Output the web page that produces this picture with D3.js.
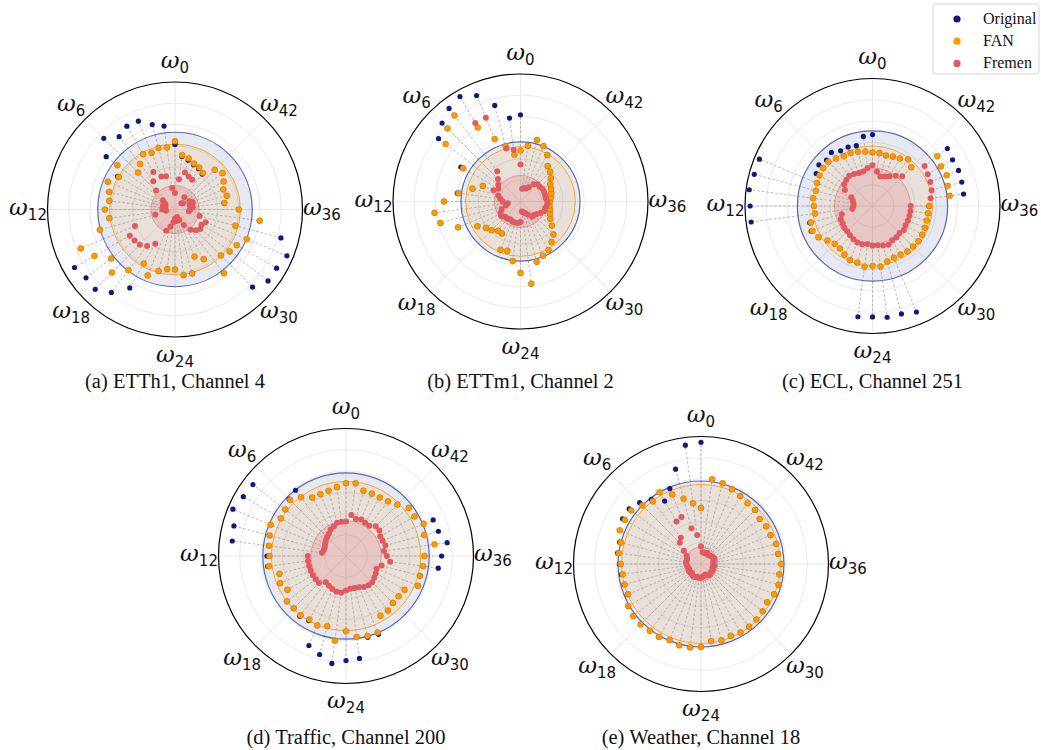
<!DOCTYPE html>
<html>
<head>
<meta charset="utf-8">
<script src="https://cdn.jsdelivr.net/npm/d3@7"></script>
<style>
body { margin: 0; background: #fff; }
</style>
</head>
<body>
<script>

// 48 frequency components per channel, radius as fraction of the outer circle
var N = 48;
var TICKS = [0, 6, 12, 18, 24, 30, 36, 42];
var TITLES = ["(a) ETTh1, Channel 4", "(b) ETTm1, Channel 2", "(c) ECL, Channel 251",
              "(d) Traffic, Channel 200", "(e) Weather, Channel 18"];
var SERIES = ["Original", "FAN", "Fremen"];

var origA = [0.51,0.66,0.69,0.75,0.755,0.72,0.79,0.68,0.52,0.57,0.535,0.52,0.55,0.52,0.61,0.80,
             0.91,0.88,0.885,0.82,0.71,0.56,0.50,0.47,0.47,0.52,0.52,0.40,0.45,0.63,0.86,0.92,
             0.92,0.95,0.86,0.67,0.50,0.39,0.42,0.41,0.44,0.47,0.44,0.35,0.37,0.38,0.40,0.42];
var fanA  = [0.535,0.49,0.50,0.48,0.50,0.45,0.41,0.57,0.51,0.57,0.535,0.52,0.55,0.52,0.61,0.80,
             0.73,0.63,0.70,0.60,0.49,0.56,0.50,0.47,0.47,0.52,0.52,0.40,0.45,0.63,0.51,0.54,
             0.56,0.61,0.49,0.67,0.50,0.39,0.42,0.41,0.44,0.47,0.44,0.36,0.38,0.39,0.415,0.43];
var freA  = [0.13,0.17,0.27,0.28,0.34,0.28,0.21,0.12,0.09,0.08,0.10,0.08,0.10,0.07,0.16,0.34,
             0.41,0.40,0.39,0.36,0.31,0.18,0.14,0.10,0.07,0.09,0.06,0.09,0.14,0.20,0.23,0.25,
             0.24,0.26,0.20,0.11,0.12,0.14,0.12,0.15,0.13,0.08,0.07,0.12,0.27,0.28,0.30,0.24];

var origB = [0.68,0.66,0.78,0.90,0.95,0.92,0.87,0.81,0.54,0.32,0.39,0.50,0.60,0.68,0.65,0.53,
             0.39,0.34,0.32,0.29,0.29,0.41,0.40,0.47,0.56,0.65,0.49,0.46,0.44,0.40,0.365,0.31,
             0.27,0.25,0.24,0.23,0.23,0.24,0.25,0.26,0.27,0.30,0.33,0.35,0.42,0.47,0.50,0.44];
var fanB  = [0.40,0.37,0.45,0.53,0.67,0.85,0.81,0.74,0.52,0.32,0.39,0.49,0.60,0.68,0.65,0.53,
             0.39,0.34,0.32,0.29,0.29,0.41,0.40,0.47,0.56,0.65,0.49,0.46,0.44,0.40,0.365,0.31,
             0.27,0.25,0.24,0.23,0.23,0.24,0.25,0.26,0.27,0.30,0.33,0.35,0.42,0.47,0.50,0.44];
var freB  = [0.29,0.41,0.43,0.71,0.71,0.30,0.25,0.22,0.20,0.23,0.18,0.16,0.14,0.10,0.12,0.16,
             0.18,0.19,0.17,0.17,0.16,0.17,0.17,0.17,0.16,0.08,0.09,0.10,0.12,0.15,0.15,0.16,
             0.18,0.20,0.20,0.21,0.21,0.20,0.20,0.20,0.20,0.19,0.19,0.17,0.13,0.11,0.11,0.10];

var origC = [0.56,0.55,0.49,0.50,0.50,0.53,0.51,0.53,0.51,0.96,0.96,0.975,0.96,0.96,0.51,0.52,
             0.49,0.445,0.42,0.42,0.44,0.46,0.46,0.876,0.87,0.88,0.876,0.90,0.44,0.45,0.45,0.455,
             0.45,0.445,0.44,0.44,0.445,0.72,0.725,0.73,0.725,0.74,0.43,0.46,0.43,0.42,0.41,0.42];
var fanC  = [0.42,0.43,0.44,0.45,0.45,0.47,0.49,0.49,0.48,0.47,0.46,0.47,0.46,0.455,0.50,0.51,
             0.49,0.445,0.42,0.42,0.44,0.46,0.46,0.48,0.47,0.48,0.45,0.44,0.44,0.45,0.45,0.455,
             0.45,0.445,0.44,0.44,0.445,0.61,0.61,0.63,0.62,0.64,0.43,0.46,0.43,0.42,0.41,0.42];
var freC  = [0.32,0.30,0.28,0.28,0.29,0.30,0.29,0.28,0.25,0.18,0.16,0.15,0.15,0.16,0.25,0.27,
             0.27,0.28,0.28,0.29,0.30,0.31,0.31,0.30,0.31,0.31,0.32,0.33,0.31,0.31,0.30,0.31,
             0.30,0.30,0.30,0.30,0.30,0.46,0.48,0.49,0.50,0.515,0.33,0.30,0.27,0.25,0.24,0.27];

var origD = [0.57,0.545,0.53,0.525,0.53,0.65,0.63,0.92,0.93,0.96,0.91,0.90,0.62,0.62,0.54,0.56,
             0.53,0.585,0.58,0.595,0.585,0.76,0.80,0.85,0.82,0.81,0.66,0.665,0.54,0.54,0.52,0.52,
             0.53,0.61,0.60,0.73,0.75,0.80,0.75,0.74,0.62,0.62,0.57,0.54,0.53,0.53,0.53,0.575];
var fanD  = [0.57,0.545,0.53,0.525,0.53,0.58,0.62,0.60,0.59,0.64,0.62,0.61,0.60,0.61,0.54,0.56,
             0.53,0.585,0.58,0.585,0.575,0.59,0.57,0.67,0.59,0.64,0.65,0.65,0.54,0.54,0.52,0.52,
             0.53,0.61,0.60,0.61,0.615,0.70,0.635,0.66,0.62,0.62,0.57,0.54,0.53,0.53,0.53,0.575];
var freD  = [0.27,0.27,0.27,0.25,0.24,0.22,0.21,0.20,0.19,0.18,0.18,0.19,0.30,0.30,0.30,0.30,
             0.30,0.30,0.30,0.26,0.27,0.28,0.29,0.29,0.27,0.26,0.26,0.265,0.28,0.29,0.29,0.28,
             0.27,0.26,0.29,0.35,0.32,0.30,0.32,0.31,0.31,0.33,0.33,0.30,0.30,0.31,0.30,0.325];

var origE = [0.955,0.94,0.77,0.64,0.57,0.64,0.68,0.71,0.71,0.69,0.66,0.66,0.64,0.63,0.625,0.625,
             0.66,0.67,0.67,0.66,0.66,0.645,0.66,0.66,0.65,0.61,0.62,0.61,0.62,0.62,0.615,0.61,
             0.60,0.62,0.63,0.62,0.63,0.61,0.61,0.59,0.59,0.58,0.60,0.60,0.615,0.635,0.655,0.67];
var fanE  = [0.44,0.48,0.53,0.59,0.65,0.62,0.65,0.69,0.69,0.69,0.65,0.65,0.63,0.62,0.62,0.62,
             0.66,0.67,0.67,0.66,0.66,0.645,0.66,0.66,0.65,0.61,0.62,0.61,0.62,0.62,0.615,0.61,
             0.60,0.62,0.63,0.62,0.63,0.61,0.61,0.59,0.59,0.58,0.60,0.60,0.615,0.635,0.655,0.67];
var freE  = [0.14,0.23,0.29,0.40,0.385,0.26,0.235,0.17,0.13,0.12,0.115,0.12,0.115,0.11,0.105,0.10,
             0.11,0.105,0.10,0.11,0.115,0.11,0.105,0.11,0.105,0.10,0.095,0.09,0.10,0.11,0.105,0.10,
             0.105,0.10,0.095,0.105,0.10,0.095,0.105,0.115,0.105,0.10,0.095,0.09,0.10,0.095,0.09,0.095];

var COLORS = ["#0c1a80", "#ff9900", "#e05a5f"];

var W = 1041, H = 750;
var R = 127.5;

var panels = [
    { cx: 175,   cy: 209.5, ty: 388, data: [origA, fanA, freA] },
    { cx: 520.5, cy: 201.5, ty: 388, data: [origB, fanB, freB] },
    { cx: 872.5, cy: 206,   ty: 388, data: [origC, fanC, freC] },
    { cx: 346,   cy: 556,   ty: 744, data: [origD, fanD, freD] },
    { cx: 701,   cy: 564,   ty: 744, data: [origE, fanE, freE] }
];

var svg = d3.select("body").append("svg")
    .attr("width", W)
    .attr("height", H);

var rs = d3.scaleLinear().domain([0, 1]).range([0, R]);
var ang = d3.scaleLinear().domain([0, N]).range([0, 2 * Math.PI]);

function px(k, v) { return -rs(v) * Math.sin(ang(k)); }
function py(k, v) { return -rs(v) * Math.cos(ang(k)); }

panels.forEach(function (p, i) {
    var g = svg.append("g").attr("transform", "translate(" + p.cx + "," + p.cy + ")");
    var orig = p.data[0], fan = p.data[1], fre = p.data[2];

    // grid rings and spokes
    g.selectAll(".ring").data(d3.range(1, 6).map(function (d) { return d / 6; }))
        .enter().append("circle")
        .attr("r", function (d) { return rs(d); })
        .attr("fill", "none").attr("stroke", "#e3e3e3").attr("stroke-width", 0.8);
    g.selectAll(".spoke").data(TICKS)
        .enter().append("line")
        .attr("x1", 0).attr("y1", 0)
        .attr("x2", function (k) { return px(k, 1); })
        .attr("y2", function (k) { return py(k, 1); })
        .attr("stroke", "#e3e3e3").attr("stroke-width", 0.8);

    // mean circles (fills)
    var means = p.data.map(function (s) { return d3.mean(s); });
    var fillOp = [0.1, 0.1, 0.18];
    means.forEach(function (m, j) {
        g.append("circle").attr("r", rs(m))
            .attr("fill", COLORS[j]).attr("fill-opacity", fillOp[j])
            .attr("stroke", "none");
    });

    // dashed guides joining the three values of each component
    function lo(k) { return Math.min(orig[k], fan[k], fre[k]); }
    function hi(k) { return Math.max(orig[k], fan[k], fre[k]); }
    g.selectAll(".guide").data(d3.range(N))
        .enter().append("line")
        .attr("x1", function (k) { return px(k, lo(k)); })
        .attr("y1", function (k) { return py(k, lo(k)); })
        .attr("x2", function (k) { return px(k, hi(k)); })
        .attr("y2", function (k) { return py(k, hi(k)); })
        .attr("stroke", "#9a9a9a").attr("stroke-width", 0.7)
        .attr("stroke-dasharray", "2.5,2");

    var strokeOp = [0.65, 0.8, 0.5];
    means.forEach(function (m, j) {
        g.append("circle").attr("r", rs(m))
            .attr("fill", "none")
            .attr("stroke", COLORS[j]).attr("stroke-opacity", strokeOp[j])
            .attr("stroke-width", j == 0 ? 1.2 : 1);
    });

    // outer frame
    g.append("circle").attr("r", R)
        .attr("fill", "none").attr("stroke", "#000").attr("stroke-width", 1.2);

    // points
    var sizes = [2.6, 3, 3];
    p.data.forEach(function (s, j) {
        g.selectAll(".s" + j).data(s)
            .enter().append("circle")
            .attr("cx", function (v, k) { return px(k, v); })
            .attr("cy", function (v, k) { return py(k, v); })
            .attr("r", sizes[j])
            .attr("fill", COLORS[j])
            .attr("stroke", j == 1 ? "#b87000" : "none")
            .attr("stroke-width", 0.5);
    });

    // theta labels
    var lab = g.selectAll(".lab").data(TICKS)
        .enter().append("text")
        .attr("x", function (k) { return -147 * Math.sin(ang(k)); })
        .attr("y", function (k) { return -147 * Math.cos(ang(k)) + 5; })
        .attr("text-anchor", "middle")
        .attr("fill", "#111");
    lab.append("tspan")
        .attr("font-family", "DejaVu Serif")
        .attr("font-style", "italic")
        .attr("font-size", 23)
        .text("ω");
    lab.append("tspan")
        .attr("font-family", "DejaVu Sans")
        .attr("font-size", 15)
        .attr("dy", 5)
        .text(function (k) { return k; });

    svg.append("text")
        .attr("x", p.cx).attr("y", p.ty)
        .attr("text-anchor", "middle")
        .attr("font-family", "Liberation Serif")
        .attr("font-size", 20.5)
        .attr("fill", "#111")
        .text(TITLES[i]);
});

// legend
var lg = svg.append("g").attr("transform", "translate(933,4)");
lg.append("rect")
    .attr("width", 106).attr("height", 70).attr("rx", 3)
    .attr("fill", "#fff").attr("stroke", "#d5d5d5");
SERIES.forEach(function (name, j) {
    lg.append("circle").attr("cx", 24).attr("cy", 15 + j * 22.2).attr("r", 3.6)
        .attr("fill", COLORS[j]);
    lg.append("text").attr("x", 50).attr("y", 20 + j * 22.2)
        .attr("font-family", "Liberation Serif").attr("font-size", 16)
        .attr("fill", "#111")
        .text(name);
});

</script>
</body>
</html>
